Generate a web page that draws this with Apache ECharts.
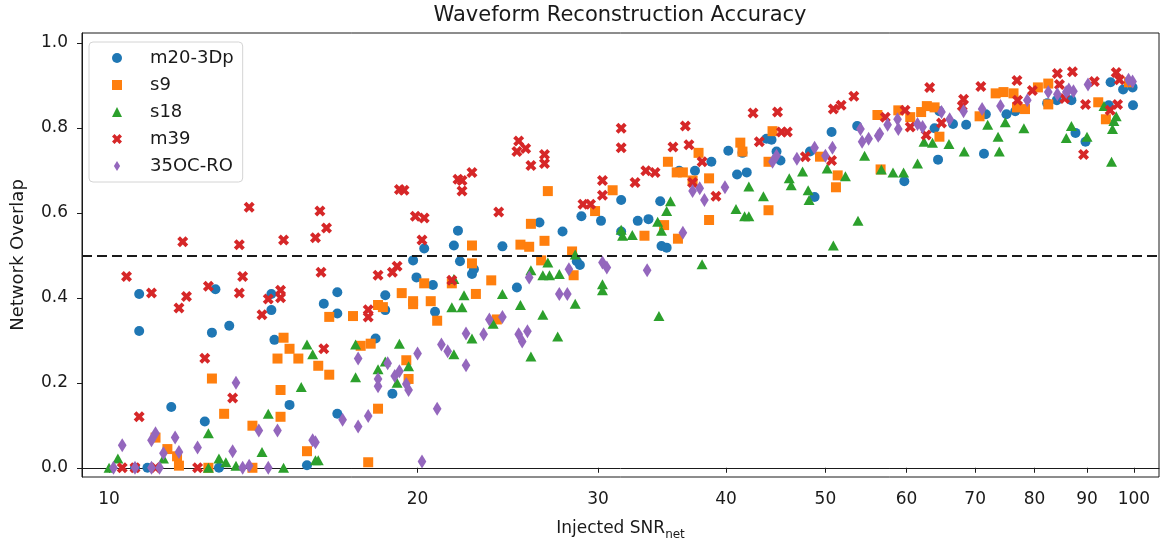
<!DOCTYPE html>
<html>
<head>
<meta charset="utf-8">
<script src="https://cdn.jsdelivr.net/npm/echarts@6/dist/echarts.min.js"></script>
<style>
  html, body { margin: 0; padding: 0; background: #fff; }
  #chart { width: 1162px; height: 546px; }
</style>
</head>
<body>
<div id="chart"></div>
<script>
// Axis ticks
const xTicks = [10, 20, 30, 40, 50, 60, 70, 80, 90, 100];
const yTicks = [0, 0.2, 0.4, 0.6, 0.8, 1.0];
const threshold = 0.5;

// [injected SNR_net, network overlap] per waveform model
const m20_3Dp = [
  [10.7,0.409],[10.7,0.322],[12.7,0.420],[12.6,0.318],[13.1,0.334],[14.4,0.409],[14.4,0.371],[14.5,0.301],
  [16.2,0.386],[16.7,0.413],[16.7,0.363],[11.5,0.143],[12.4,0.109],[15.0,0.148],[16.7,0.127],[15.6,0.006],
  [10.6,0],[10.9,0],[12.8,0],
  [18.6,0.406],[18.6,0.371],[18.2,0.304],[18.9,0.174],[19.8,0.488],[19.95,0.448],[20.3,0.516],[20.7,0.430],
  [20.8,0.367],[21.7,0.523],[21.9,0.558],[22.0,0.486],[22.6,0.456],[22.7,0.467],[24.2,0.521],[25.0,0.424],
  [26.3,0.577],[27.7,0.556],[28.6,0.486],[28.8,0.477],[28.9,0.592],
  [30.2,0.581],[31.6,0.630],[31.6,0.556],[32.8,0.581],[33.6,0.585],[34.5,0.627],[34.6,0.522],[35.0,0.518],
  [36.0,0.699],[37.3,0.699],[38.7,0.720],[40.2,0.746],[41.0,0.690],[41.9,0.695],[41.5,0.741],[43.8,0.774],
  [44.3,0.772],[44.8,0.744],[45.2,0.723],[48.3,0.744],[48.8,0.637],[50.7,0.790],[53.7,0.804],
  [59.7,0.674],[64.6,0.839],[63.9,0.799],[64.4,0.725],[66.6,0.809],[68.6,0.807],[71.4,0.739],[71.7,0.832],
  [75.1,0.832],[76.6,0.839],[82.3,0.858],[84.1,0.865],[86.9,0.865],[87.7,0.788],[89.7,0.767],[94.9,0.907],
  [94.5,0.853],[97.6,0.890],[99.7,0.895],[99.8,0.853]
];

const s9 = [
  [16.4,0.355],[14.8,0.306],[15.0,0.280],[14.6,0.257],[15.3,0.257],[16.0,0.240],[16.4,0.219],[12.6,0.210],
  [14.7,0.183],[12.95,0.127],[14.7,0.120],[13.8,0.099],[11.1,0.071],[11.4,0.044],[11.65,0.027],[15.6,0.039],
  [12.5,0],[13.8,0],[11.7,0.005],
  [17.3,0.357],[17.6,0.287],[18.0,0.292],[18.3,0.383],[18.5,0.378],[18.3,0.139],[17.9,0.013],[19.3,0.411],
  [19.8,0.392],[19.8,0.385],[19.5,0.253],[19.6,0.209],[20.3,0.434],[20.6,0.392],[20.9,0.346],[21.6,0.434],
  [22.6,0.481],[22.6,0.523],[22.8,0.409],[23.6,0.441],[23.9,0.349],[25.2,0.525],[25.7,0.520],[25.8,0.574],
  [26.6,0.534],[26.8,0.651],[26.4,0.488],[28.3,0.509],[28.4,0.453],
  [29.8,0.604],[31.0,0.653],[33.3,0.546],[34.8,0.571],[35.9,0.539],[35.1,0.720],[35.8,0.695],[36.3,0.695],
  [37.1,0.676],[37.6,0.741],[38.5,0.681],[38.5,0.583],[41.3,0.765],[41.5,0.744],[44.0,0.720],[44.0,0.606],
  [44.4,0.792],[49.4,0.732],[51.4,0.688],[51.2,0.660],[56.2,0.830],
  [56.6,0.702],[58.9,0.841],[60.5,0.825],[62.0,0.837],[62.8,0.851],[63.9,0.848],[64.6,0.779],[70.7,0.827],
  [73.3,0.881],[74.6,0.884],[76.3,0.881],[78.3,0.844],[76.9,0.848],[80.6,0.895],[82.5,0.904],[82.5,0.855],
  [92.3,0.860],[93.9,0.820],[98.9,0.907]
];

const s18 = [
  [15.6,0.290],[15.8,0.267],[15.4,0.190],[14.3,0.127],[12.5,0.081],[14.1,0.037],[12.8,0.022],[13.0,0.013],
  [15.9,0.018],[16.0,0.018],[10.2,0.022],[10.0,0],[13.3,0.005],[14.8,0],[11.3,0.022],[12.5,0],
  [17.4,0.290],[17.4,0.213],[18.3,0.232],[18.6,0.250],[19.2,0.292],[19.6,0.239],[19.1,0.200],[21.6,0.378],
  [22.1,0.378],[22.2,0.406],[21.7,0.444],[21.7,0.267],[22.6,0.304],[23.7,0.339],[24.2,0.409],[25.2,0.383],
  [25.8,0.262],[26.5,0.360],[27.4,0.309],[25.8,0.465],[26.5,0.453],[26.9,0.453],[27.5,0.456],[26.8,0.483],
  [28.5,0.502],[28.5,0.386],
  [31.6,0.560],[31.7,0.546],[32.4,0.548],[34.3,0.579],[34.6,0.558],[35.0,0.604],[35.3,0.627],[30.3,0.432],
  [30.3,0.418],[34.4,0.357],[37.9,0.479],[40.9,0.609],[41.7,0.592],[42.1,0.592],[42.1,0.662],[43.5,0.639],
  [46.1,0.681],[46.3,0.665],[47.5,0.697],[48.1,0.653],[48.2,0.630],[50.2,0.704],[50.9,0.523],[52.3,0.686],
  [53.8,0.581],[54.6,0.734],
  [56.7,0.702],[58.2,0.695],[59.6,0.695],[61.5,0.716],[62.4,0.767],[63.6,0.765],[66.0,0.762],[68.3,0.744],
  [72.0,0.807],[73.7,0.779],[73.9,0.744],[74.9,0.813],[78.1,0.799],[85.9,0.776],[86.9,0.804],[90.0,0.779],
  [93.5,0.851],[95.1,0.720],[95.3,0.797],[95.6,0.816],[96.1,0.827]
];

const m39 = [
  [13.7,0.613],[11.8,0.532],[13.4,0.525],[14.8,0.536],[16.06,0.604],[16.3,0.564],[15.9,0.541],[10.4,0.450],
  [11.0,0.411],[11.7,0.376],[11.9,0.403],[12.5,0.427],[13.4,0.411],[13.5,0.450],[14.3,0.397],[14.1,0.360],
  [14.7,0.418],[14.7,0.400],[16.1,0.460],[12.4,0.258],[13.2,0.164],[16.2,0.280],[10.7,0.120],[10.3,0],
  [10.6,0],[11.1,0],[12.2,0],
  [19.2,0.655],[19.4,0.653],[19.9,0.592],[20.3,0.588],[20.2,0.536],[18.3,0.453],[18.9,0.460],[19.1,0.474],
  [17.9,0.372],[17.9,0.355],[21.6,0.441],[21.9,0.679],[22.1,0.676],[22.6,0.695],[22.1,0.651],[24.0,0.602],
  [25.1,0.769],[25.5,0.751],[25.0,0.744],[25.8,0.711],[26.6,0.737],[26.6,0.716],[29.0,0.620],[29.5,0.620],
  [30.3,0.676],[30.3,0.641],[31.6,0.799],[31.6,0.753],[32.6,0.671],[33.4,0.699],[34.1,0.695],[35.5,0.755],
  [36.5,0.804],[36.8,0.760],[37.1,0.671],[37.9,0.720],[39.1,0.639],[42.5,0.835],[43.1,0.767],[44.9,0.837],
  [45.3,0.790],[45.9,0.790],[47.8,0.732],[50.7,0.723],[50.9,0.844],[51.8,0.853],[53.3,0.874],
  [63.2,0.895],[57.2,0.825],[59.8,0.841],[60.5,0.802],[62.7,0.783],[64.9,0.811],[68.2,0.867],[68.0,0.851],
  [70.9,0.897],[76.9,0.911],[79.6,0.888],[77.0,0.865],[84.2,0.928],[84.6,0.902],[87.1,0.932],[85.6,0.869],
  [89.7,0.855],[89.3,0.737],[91.5,0.909],[94.8,0.841],[96.4,0.855],[96.1,0.930],[96.8,0.913]
];

const c35OC_RO = [
  [13.3,0.200],[10.3,0.053],[11.1,0.081],[11.0,0.065],[11.6,0.071],[11.3,0.034],[11.7,0.037],[12.2,0.048],
  [13.2,0.039],[14.0,0.088],[14.6,0.088],[15.8,0.065],[15.9,0.060],[10.1,0],[10.6,0],[11.0,0],
  [11.2,0],[13.5,0],[13.7,0.005],[14.3,0],
  [16.9,0.113],[17.5,0.257],[17.5,0.097],[17.9,0.122],[18.3,0.209],[18.3,0.192],[18.7,0.246],[19.0,0.216],
  [19.2,0.227],[19.5,0.197],[19.6,0.183],[20.0,0.269],[20.2,0.015],[20.9,0.139],[21.1,0.290],[21.4,0.274],
  [22.3,0.241],[22.3,0.316],[23.2,0.314],[23.5,0.349],[24.2,0.355],[25.1,0.314],[25.3,0.297],[25.6,0.321],
  [25.7,0.448],[27.5,0.409],[28.0,0.409],[28.1,0.467],
  [30.3,0.483],[30.6,0.471],[33.5,0.465],[36.3,0.553],[37.1,0.651],[37.7,0.658],[38.1,0.630],[39.9,0.660],
  [44.4,0.720],[44.8,0.734],[46.9,0.727],[48.8,0.753],[50.0,0.734],[50.8,0.753],[54.1,0.797],[55.1,0.774],
  [54.3,0.767],[56.3,0.781],
  [56.5,0.786],[57.5,0.807],[58.9,0.797],[58.8,0.820],[61.5,0.809],[62.2,0.802],[64.9,0.837],[66.1,0.820],
  [68.2,0.839],[71.1,0.844],[74.1,0.851],[78.7,0.865],[82.5,0.884],[84.2,0.879],[85.9,0.884],[87.3,0.886],
  [86.4,0.890],[90.2,0.902],[98.8,0.913],[99.7,0.909]
];

const FONT = 'DejaVu Sans';
const INK = '#1a1a1a';
// filled "X" and thin diamond marker outlines
const X_MARK = 'path://M1,0L2,1L3,0L4,1L3,2L4,3L3,4L2,3L1,4L0,3L1,2L0,1Z';
const THIN_DIAMOND = 'path://M31,0L62,50L31,100L0,50Z';

const chart = echarts.init(document.getElementById('chart'), null, { renderer: 'canvas' });

function scatter(name, data, color, symbol, size, extra) {
  return Object.assign({
    name: name,
    type: 'scatter',
    data: data,
    symbol: symbol,
    symbolSize: size,
    itemStyle: { color: color, opacity: 1 },
    emphasis: { disabled: true }
  }, extra || {});
}

chart.setOption({
  animation: false,
  backgroundColor: '#ffffff',
  textStyle: { fontFamily: FONT },
  grid: {
    left: 82, top: 33, right: 3, bottom: 64,
    show: true, borderColor: INK, borderWidth: 1, backgroundColor: 'transparent'
  },
  graphic: [{
    type: 'text',
    x: 620, y: 16,
    style: {
      text: 'Waveform Reconstruction Accuracy',
      textAlign: 'center', textVerticalAlign: 'middle',
      fontSize: 21, fontFamily: FONT, fill: INK
    }
  }],
  legend: {
    orient: 'vertical',
    left: 89, top: 42,
    padding: [6, 9, 6, 23],
    itemWidth: 10, itemHeight: 10, itemGap: 7,
    backgroundColor: 'rgba(255,255,255,0.85)',
    borderColor: '#d4d4d4', borderWidth: 1, borderRadius: 4,
    textStyle: { fontSize: 18, color: INK, fontFamily: FONT, lineHeight: 20, padding: [0, 0, 0, 23] },
    data: ['m20-3Dp', 's9', 's18', 'm39', '35OC-RO']
  },
  xAxis: {
    type: 'log',
    logBase: 10,
    min: 9.41, max: 105.8,
    splitLine: { show: false },
    minorTick: { show: false },
    axisLine: { show: true, lineStyle: { color: INK, width: 1 } },
    axisTick: { show: true, customValues: xTicks, length: 5, lineStyle: { color: INK, width: 1 } },
    axisLabel: {
      customValues: xTicks, fontSize: 17, color: INK, fontFamily: FONT, margin: 14,
      formatter: v => String(Math.round(v))
    },
    name: '{a|Injected SNR}{b|net}',
    nameLocation: 'middle',
    nameGap: 38,
    nameTextStyle: {
      rich: {
        a: { fontSize: 17, color: INK, fontFamily: FONT, lineHeight: 22, verticalAlign: 'bottom' },
        b: { fontSize: 12, color: INK, fontFamily: FONT, lineHeight: 22, verticalAlign: 'bottom', padding: [0, 0, -4, 0] }
      }
    }
  },
  yAxis: {
    type: 'value',
    min: -0.0217, max: 1.023,
    splitLine: { show: false },
    axisLine: { show: true, lineStyle: { color: INK, width: 1 } },
    axisTick: { show: true, customValues: yTicks, length: 5, lineStyle: { color: INK, width: 1 } },
    axisLabel: {
      customValues: yTicks, fontSize: 17, color: INK, fontFamily: FONT, margin: 14,
      formatter: v => v.toFixed(1)
    },
    name: 'Network Overlap',
    nameLocation: 'middle',
    nameGap: 55,
    nameTextStyle: { fontSize: 18, color: INK, fontFamily: FONT }
  },
  series: [
    scatter('m20-3Dp', m20_3Dp, '#1f77b4', 'circle', 10),
    scatter('s9', s9, '#ff7f0e', 'rect', 10),
    scatter('s18', s18, '#2ca02c', 'triangle', [11, 10]),
    scatter('m39', m39, '#d62728', X_MARK, 11),
    scatter('35OC-RO', c35OC_RO, '#9467bd', THIN_DIAMOND, 14, {
      symbolKeepAspect: true,
      markLine: {
        silent: true,
        symbol: ['none', 'none'],
        label: { show: false },
        lineStyle: { type: [10, 5], width: 2, color: INK },
        data: [{ yAxis: threshold }]
      }
    })
  ]
});
</script>
</body>
</html>
